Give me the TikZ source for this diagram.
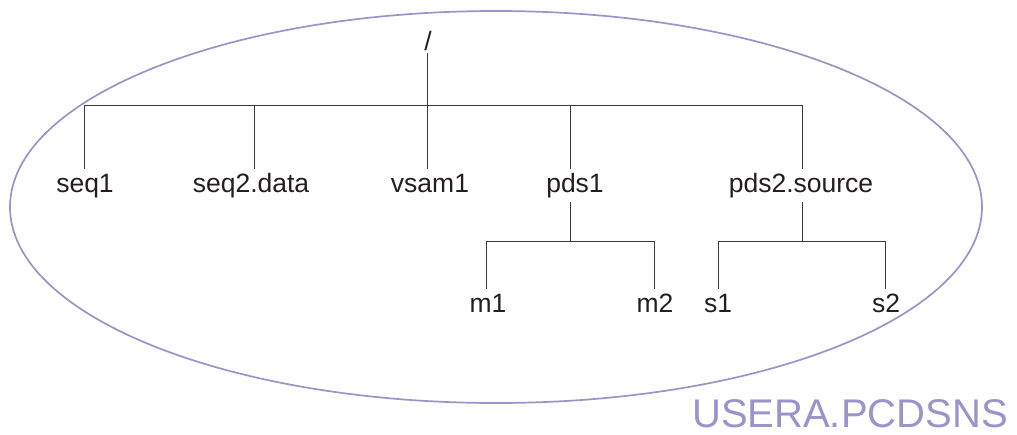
\documentclass[tikz,border=0pt]{standalone}
\usepackage{fontspec}
\setmainfont{Liberation Sans}
\usetikzlibrary{shapes.geometric}
\definecolor{txt}{HTML}{231F20}
\definecolor{ln}{HTML}{3A3A3A}
\definecolor{lav}{HTML}{9B93C9}
\begin{document}
\begin{tikzpicture}[x=1pt,y=-1pt,
  lbl/.style={font=\fontsize{26.5}{26}\selectfont, text=txt, inner sep=0pt, outer sep=4pt,
    anchor=base, text height=19pt, text depth=6pt},
  rootlbl/.style={font=\fontsize{26.5}{26}\selectfont, text=txt, inner sep=0pt, outer sep=3pt,
    anchor=base, text height=18pt, text depth=0pt},
  edge/.style={draw=ln, line width=0.8pt},
  set/.style={draw=lav, line width=1.7pt},
  title/.style={font=\fontsize{40}{40}\selectfont, text=lav, inner sep=0pt, anchor=base east,
    text height=29pt, text depth=0pt}]
\useasboundingbox (0,0) rectangle (1017,434);
\node[set, ellipse, minimum width=972pt, minimum height=392pt, inner sep=0pt] (ell) at (496,207) {};
\node[rootlbl] (root) at (428,50) {/};
\node[lbl] (seq1) at (85,192) {seq1};
\node[lbl] (seq2) at (251,192) {seq2.data};
\node[lbl] (vsam) at (430,192) {vsam1};
\node[lbl] (pds1) at (575,192) {pds1};
\node[lbl] (pds2) at (801,192) {pds2.source};
\node[lbl] (m1) at (488,312) {m1};
\node[lbl] (m2) at (655,312) {m2};
\node[lbl] (s1) at (718,312) {s1};
\node[lbl] (s2) at (886,312) {s2};
\node[title] (name) at (1008,427) {USERA.PCDSNS};
\coordinate (bar) at (427,105);
\coordinate (bar1) at (570,241);
\coordinate (bar2) at (802,241);
% root level
\draw[edge] ([xshift=-1pt]root.south) -- (bar);
\draw[edge] (bar) -| ([xshift=-1pt]seq1.north);
\draw[edge] (bar) -| ([xshift=3pt]seq2.north);
\draw[edge] (bar) -- ([xshift=-3pt]vsam.north);
\draw[edge] (bar) -| ([xshift=-5pt]pds1.north);
\draw[edge] (bar) -| ([xshift=1pt]pds2.north);
% pds1
\draw[edge] ([xshift=-5pt]pds1.south) -- (bar1);
\draw[edge] (bar1) -| ([xshift=-2pt]m1.north);
\draw[edge] (bar1) -| ([xshift=-1pt]m2.north);
% pds2
\draw[edge] ([xshift=1pt]pds2.south) -- (bar2);
\draw[edge] (bar2) -| (s1.north);
\draw[edge] (bar2) -| ([xshift=-1pt]s2.north);
\end{tikzpicture}
\end{document}
